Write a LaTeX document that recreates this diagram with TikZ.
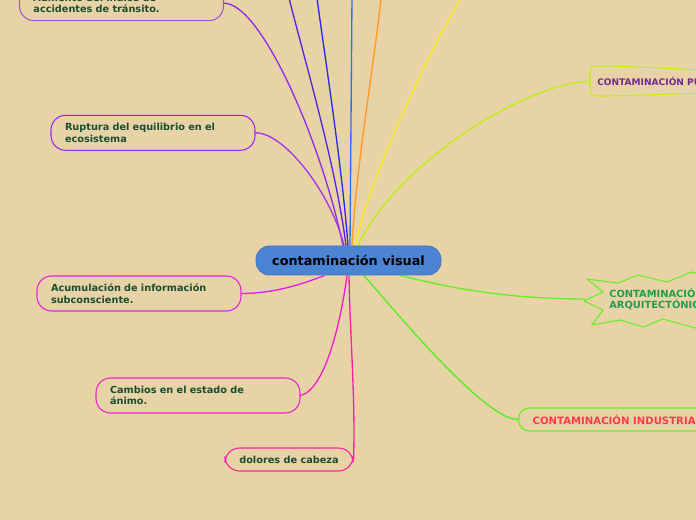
\documentclass[tikz,border=0pt]{standalone}
\usepackage{fontspec}
\setmainfont{DejaVu Sans}
\usetikzlibrary{calc,backgrounds}
\definecolor{bg}{HTML}{E8D3A7}
\definecolor{leaftext}{HTML}{1A4D2E}
\definecolor{hubfill}{HTML}{4A84D2}
\definecolor{hubdraw}{HTML}{3F76C2}
\definecolor{cPurpA}{HTML}{9A5AD6}
\definecolor{lPurpA}{HTML}{8E2EE8}
\definecolor{cPurpB}{HTML}{A020F0}
\definecolor{lPurpB}{HTML}{A535E6}
\definecolor{cMagA}{HTML}{E020E0}
\definecolor{cMagB}{HTML}{F020C8}
\definecolor{cPink}{HTML}{FF1FA0}
\definecolor{lViolet}{HTML}{5B22E6}
\definecolor{lBlue}{HTML}{2A2AEE}
\definecolor{lBlueB}{HTML}{2F6FF5}
\definecolor{lOrange}{HTML}{FF9A1F}
\definecolor{lYellow}{HTML}{F5EE1A}
\definecolor{lLime}{HTML}{C0EE10}
\definecolor{lGreen}{HTML}{66EE22}
\definecolor{lGreenB}{HTML}{55EE22}
\definecolor{tPurp}{HTML}{6E2C8E}
\definecolor{tGreen}{HTML}{1E9E4E}
\definecolor{tRed}{HTML}{FF3B45}
\tikzset{
  leaf/.style={draw, line width=0.8pt, rounded corners=11pt, text=leaftext,
    font=\fontsize{7.3}{8.8}\selectfont\bfseries, align=left,
    text width=132pt, inner xsep=10.5pt, inner ysep=0pt, minimum height=26.25pt},
  conn/.style={line width=1pt},
  hub/.style={draw=hubdraw, fill=hubfill, line width=0.6pt, rounded corners=10pt,
    minimum width=138.75pt, minimum height=21.75pt, inner sep=0pt,
    font=\fontsize{9.6}{11}\selectfont\bfseries, text=black}
}
\begin{document}
\begin{tikzpicture}[x=0.75pt,y=-0.75pt]
\useasboundingbox (0,0) rectangle (696,520);
\clip (0,0) rectangle (696,520);

\node[hub] (c) at (348.5,260.5) {contaminación visual};

\node[leaf, draw=cPurpA] (n1) at (121.5,3.2) {Aumento del índice de\\accidentes de tránsito.};
\node[leaf, draw=cPurpB] (n2) at (153,132.8) {Ruptura del equilibrio en el\\ecosistema};
\node[leaf, draw=cMagA] (n3) at (139,293.5) {Acumulación de información\\subconsciente.};
\node[leaf, draw=cMagB] (n4) at (198,395.5) {Cambios en el estado de\\ánimo.};
\node[leaf, draw=cPink, text width=, align=center, minimum width=96pt, minimum height=17.25pt, inner xsep=0pt] (n5) at (289,459.5) {dolores de cabeza};

\node[anchor=west, inner xsep=5.25pt, inner ysep=0pt, text=tPurp, font=\fontsize{6.8}{8}\selectfont\bfseries] (p) at (590,81.5) {CONTAMINACIÓN PUBLICITARIA};
\node[anchor=west, inner xsep=18pt, inner ysep=0pt, align=left, text=tGreen, font=\fontsize{7.4}{8.25}\selectfont\bfseries] (a) at (585,299) {CONTAMINACIÓN\\ARQUITECTÓNICA};
\node[anchor=west, draw=lGreen, line width=0.9pt, rounded corners=8pt, inner xsep=10.5pt, inner ysep=0pt, minimum height=17.25pt, text=tRed, font=\fontsize{7.6}{9}\selectfont\bfseries] (ind) at (518,419.5) {CONTAMINACIÓN INDUSTRIAL};

\coordinate (t1) at (289,-2);
\coordinate (t2) at (317,-2);
\coordinate (t3) at (352,-2);
\coordinate (t4) at (381,-2);
\coordinate (t5) at (461,-2);

\begin{pgfonlayer}{background}
\fill[bg] (0,0) rectangle (696,520);
% shapes of the partial nodes
\draw[lLime, line width=0.8pt] (598,66) .. controls (640,66) and (680,70) .. (720,70) -- (720,93)
  .. controls (680,93) and (640,96) .. (598,96) .. controls (592,96) and (590,95) .. (590,90)
  -- (590,72) .. controls (590,67) and (592,66) .. (598,66) -- cycle;
\draw[lGreen, line width=0.8pt] (587,279) -- (618,283) -- (638,275) -- (667,282) -- (692,272) -- (720,280)
  -- (720,325) -- (695,328) -- (663,319) -- (643,327) -- (620,320) -- (592,325) -- (603,310)
  -- (584,301) -- (603,292) -- cycle;
% connectors
\draw[conn, lPurpA] (n1.east) .. controls +(37,0) and +(-22,-105) .. ($(c.north)+(-5.5,0)$);
\draw[conn, lPurpB] (n2.east) .. controls +(30,0) and +(-12,-50) .. ($(c.north)+(-4.5,0)$);
\draw[conn, lViolet] (t1) .. controls +(15,60) and +(-10,-80) .. ($(c.north)+(-2.5,0)$);
\draw[conn, lBlue] (t2) .. controls +(8,60) and +(-6,-80) .. ($(c.north)+(-0.5,0)$);
\draw[conn, lBlueB] (t3) -- ($(c.north)+(1.5,0)$);
\draw[conn, lOrange] (t4) .. controls +(-6,60) and +(4,-80) .. ($(c.north)+(3.5,0)$);
\draw[conn, lYellow] (t5) .. controls +(-30,50) and +(15,-70) .. ($(c.north)+(6.5,0)$);
\draw[conn, lLime] (p.west) .. controls +(-60,0) and +(40,-85) .. ($(c.north)+(9.5,0)$);
\draw[conn, lGreen] (a.west) .. controls +(-85,0) and +(40,10) .. ($(c.south)+(51.5,0)$);
\draw[conn, lGreenB] (ind.west) .. controls +(-48,0) and +(-45,-75) .. ($(c.south)+(7.5,0)$);
\draw[conn, cPink] (n5.east) .. controls +(2,-60) and +(1,60) .. ($(c.south)+(0.5,0)$);
\draw[conn, cMagB] (n4.east) .. controls +(25,-6) and +(-6,45) .. ($(c.south)+(-1.5,0)$);
\draw[conn, cMagA] (n3.east) .. controls +(30,0) and +(-25,10) .. ($(c.south)+(-24,0)$);
\end{pgfonlayer}
\end{tikzpicture}
\end{document}
